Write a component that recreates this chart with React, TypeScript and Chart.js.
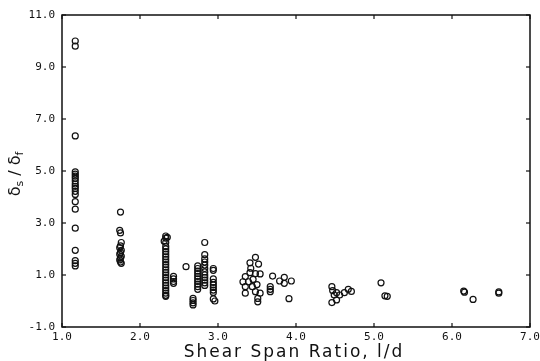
import React, { useEffect, useRef } from 'react';
import { Chart, registerables } from 'chart.js';

Chart.register(...registerables);

const xTickValues = [1, 2, 3, 4, 5, 6, 7];
const yTickValues = [-1, 1, 3, 5, 7, 9, 11];
const xTitle = 'Shear Span Ratio, l/d';
const yTitleParts = [
  { text: 'δ', sub: false },
  { text: 's', sub: true },
  { text: ' / ', sub: false },
  { text: 'δ', sub: false },
  { text: 'f', sub: true },
];

const spanRatio = [
  // l/d ≈ 1.17
  1.17, 1.17, 1.17, 1.17, 1.17, 1.17, 1.17, 1.17, 1.17, 1.17, 1.17, 1.17, 1.17, 1.17, 1.17, 1.17, 1.17, 1.17, 1.17, 1.17,
  // l/d ≈ 1.75
  1.75, 1.74, 1.75, 1.76, 1.75, 1.74, 1.76, 1.75, 1.74, 1.76, 1.75, 1.74, 1.75, 1.76,
  // l/d ≈ 2.33
  2.33, 2.35, 2.33, 2.31, 2.33, 2.33, 2.33, 2.33, 2.33, 2.33, 2.33, 2.33, 2.33, 2.33, 2.33, 2.33, 2.33, 2.33, 2.33, 2.33, 2.33, 2.33, 2.33, 2.33, 2.33, 2.33,
  2.43, 2.43, 2.43, 2.43,
  2.59,
  2.68, 2.68, 2.68, 2.68,
  2.74, 2.74, 2.74, 2.74, 2.74, 2.74, 2.74, 2.74, 2.74, 2.74,
  2.83, 2.83, 2.83, 2.83, 2.83, 2.83, 2.83, 2.83, 2.83, 2.83, 2.83, 2.83,
  2.94, 2.94, 2.94, 2.94, 2.94, 2.94, 2.94, 2.94, 2.94, 2.96,
  // l/d ≈ 3.3 – 3.95
  3.48, 3.41, 3.52, 3.42, 3.41, 3.48, 3.54, 3.35, 3.32, 3.39, 3.45, 3.35, 3.44, 3.5, 3.48, 3.35, 3.54, 3.51, 3.51,
  3.67, 3.67, 3.67, 3.7, 3.79, 3.85, 3.85, 3.94, 3.91,
  // l/d ≈ 4.5 – 4.7
  4.46, 4.47, 4.49, 4.46, 4.52, 4.56, 4.62, 4.67, 4.71, 4.52,
  // l/d > 5
  5.09, 5.14, 5.17, 6.15, 6.16, 6.27, 6.6, 6.6,
];

const deflectionRatio = [
  10.0, 9.8, 6.35, 4.97, 4.88, 4.8, 4.72, 4.62, 4.5, 4.41, 4.33, 4.22, 4.1, 3.82, 3.53, 2.8, 1.95, 1.55, 1.45, 1.35,
  3.42, 2.72, 2.62, 2.25, 2.12, 2.05, 1.95, 1.87, 1.8, 1.72, 1.65, 1.58, 1.5, 1.45,
  2.5, 2.45, 2.42, 2.3, 2.25, 2.1, 2.0, 1.9, 1.8, 1.7, 1.6, 1.5, 1.4, 1.3, 1.2, 1.1, 1.0, 0.9, 0.8, 0.7, 0.6, 0.5, 0.4, 0.3, 0.22, 0.18,
  0.95, 0.85, 0.75, 0.68,
  1.32,
  0.1, 0.02, -0.07, -0.15,
  1.35, 1.25, 1.15, 1.05, 0.95, 0.85, 0.75, 0.65, 0.55, 0.45,
  2.25, 1.78, 1.62, 1.5, 1.38, 1.25, 1.12, 1.0, 0.9, 0.8, 0.7, 0.6,
  1.25, 1.18, 0.85, 0.72, 0.62, 0.52, 0.42, 0.33, 0.08, 0.0,
  1.68, 1.47, 1.42, 1.26, 1.09, 1.05, 1.04, 0.94, 0.74, 0.74, 0.83, 0.55, 0.55, 0.63, 0.36, 0.3, 0.3, 0.1, -0.03,
  0.55, 0.45, 0.36, 0.96, 0.77, 0.91, 0.68, 0.77, 0.09,
  0.55, 0.4, 0.23, -0.06, 0.04, 0.23, 0.32, 0.45, 0.37, 0.32,
  0.7, 0.2, 0.18, 0.38, 0.34, 0.06, 0.35, 0.3,
];

const INK = '#111111';

const framePlugin = {
  id: 'frameAndTitles',
  afterDraw(chart: any) {
    const ctx: any = chart.ctx;
    const a = chart.chartArea;
    const xs = chart.scales.x;
    const ys = chart.scales.y;
    ctx.save();
    ctx.globalAlpha = 1;
    ctx.globalCompositeOperation = 'source-over';
    ctx.setLineDash([]);
    ctx.strokeStyle = INK;
    ctx.lineWidth = 1.5;
    ctx.beginPath();
    ctx.rect(a.left, a.top, a.right - a.left, a.bottom - a.top);
    ctx.stroke();
    ctx.lineWidth = 1.2;
    const L = 4;
    const seg = (x1: number, y1: number, x2: number, y2: number) => {
      ctx.beginPath();
      ctx.moveTo(x1, y1);
      ctx.lineTo(x2, y2);
      ctx.stroke();
    };
    xTickValues.forEach((v) => {
      const p = xs.getPixelForValue(v);
      seg(p, a.bottom, p, a.bottom - L);
      seg(p, a.top, p, a.top + L);
    });
    yTickValues.forEach((v) => {
      const p = ys.getPixelForValue(v);
      seg(a.left, p, a.left + L, p);
      seg(a.right, p, a.right - L, p);
    });

    // x title
    ctx.fillStyle = INK;
    ctx.font = '17px "DejaVu Sans"';
    ctx.letterSpacing = '2px';
    ctx.textAlign = 'center';
    ctx.textBaseline = 'alphabetic';
    ctx.fillText(xTitle, (a.left + a.right) / 2 - 2, 357);
    ctx.letterSpacing = '0px';

    // y title with subscripts
    const mainFont = '16px "DejaVu Sans"';
    const subFont = '11px "DejaVu Sans"';
    let total = 0;
    const widths = yTitleParts.map((p) => {
      ctx.font = p.sub ? subFont : mainFont;
      const w = ctx.measureText(p.text).width;
      total += w;
      return w;
    });
    ctx.translate(20, (a.top + a.bottom) / 2 + 3);
    ctx.rotate(-Math.PI / 2);
    ctx.textAlign = 'left';
    let x = -total / 2;
    yTitleParts.forEach((p, i) => {
      ctx.font = p.sub ? subFont : mainFont;
      ctx.fillText(p.text, x, p.sub ? 3 : 0);
      x += widths[i];
    });
    ctx.restore();
  },
};

export default function App() {
  const ref = useRef<HTMLCanvasElement>(null);

  useEffect(() => {
    document.body.style.margin = '0';
    const canvas = ref.current;
    if (!canvas) return;
    const points = spanRatio.map((v, i) => ({ x: v, y: deflectionRatio[i] }));
    const chart = new Chart(canvas, {
      type: 'scatter',
      data: {
        datasets: [
          {
            data: points,
            pointStyle: 'circle',
            pointRadius: 3,
            pointBorderWidth: 1.2,
            pointBorderColor: INK,
            pointBackgroundColor: 'rgba(255,255,255,0)',
          },
        ],
      },
      options: {
        responsive: false,
        animation: false,
        devicePixelRatio: 1,
        layout: { padding: { left: 0, right: 10, top: 15, bottom: 0 } },
        plugins: { legend: { display: false }, tooltip: { enabled: false } },
        scales: {
          x: {
            type: 'linear',
            min: 1,
            max: 7,
            afterFit: (s: any) => {
              s.height = 34;
              s.paddingLeft = 0;
              s.paddingRight = 0;
            },
            afterBuildTicks: (s: any) => {
              s.ticks = xTickValues.map((v) => ({ value: v }));
            },
            grid: { display: false, drawTicks: false },
            border: { display: false },
            ticks: {
              padding: 4,
              color: INK,
              font: { family: '"DejaVu Sans Mono"', size: 11 },
              callback: (v: any) => Number(v).toFixed(1),
            },
          },
          y: {
            type: 'linear',
            min: -1,
            max: 11,
            afterFit: (s: any) => {
              s.width = 62;
              s.paddingTop = 0;
              s.paddingBottom = 0;
            },
            afterBuildTicks: (s: any) => {
              s.ticks = yTickValues.map((v) => ({ value: v }));
            },
            grid: { display: false, drawTicks: false },
            border: { display: false },
            ticks: {
              padding: 7,
              color: INK,
              font: { family: '"DejaVu Sans Mono"', size: 11 },
              callback: (v: any) => Number(v).toFixed(1),
            },
          },
        },
      },
      plugins: [framePlugin],
    });
    return () => chart.destroy();
  }, []);

  return (
    <div style={{ width: 540, height: 361, background: '#fff' }}>
      <canvas ref={ref} width={540} height={361} />
    </div>
  );
}
